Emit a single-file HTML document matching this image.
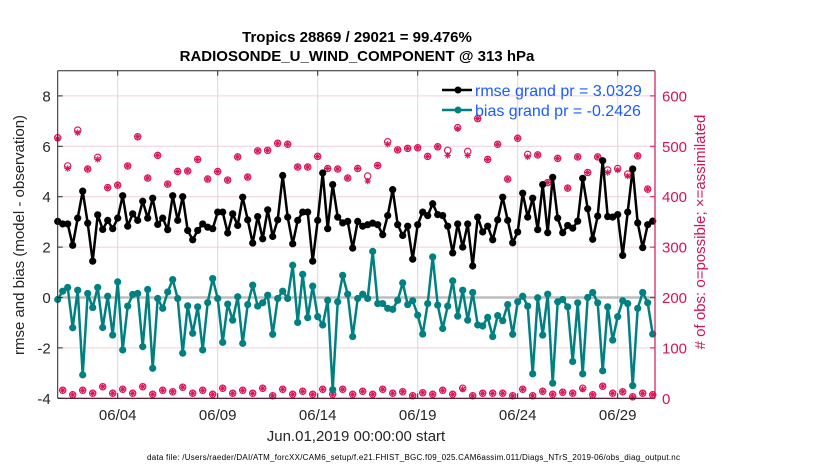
<!DOCTYPE html>
<html><head><meta charset="utf-8"><style>
body{margin:0;background:#fff;}
svg{display:block;font-family:"Liberation Sans",sans-serif;}
</style></head><body>
<svg id="chart" width="830" height="470" viewBox="0 0 830 470" xmlns="http://www.w3.org/2000/svg">
<text x="357" y="42" text-anchor="middle" font-size="15" font-weight="bold">Tropics 28869 / 29021 = 99.476%</text>
<text x="357" y="61" text-anchor="middle" font-size="15" font-weight="bold">RADIOSONDE_U_WIND_COMPONENT @ 313 hPa</text>
<g id="grid"></g>
<g id="marks"></g>
<g id="axes"></g>
<text transform="translate(24,235) rotate(-90)" text-anchor="middle" font-size="15" fill="#262626">rmse and bias (model - observation)</text>
<text transform="translate(705,232) rotate(-90)" text-anchor="middle" font-size="15" fill="#d0145a"># of obs: o=possible; ×=assimilated</text>
<text x="356" y="441" text-anchor="middle" font-size="15" fill="#262626">Jun.01,2019 00:00:00 start</text>
<text x="147" y="460" font-size="8" textLength="533" fill="#000">data file: /Users/raeder/DAI/ATM_forcXX/CAM6_setup/f.e21.FHIST_BGC.f09_025.CAM6assim.011/Diags_NTrS_2019-06/obs_diag_output.nc</text>
<g>
<line x1="442" y1="90" x2="472" y2="90" stroke="#000" stroke-width="2.5"/>
<circle cx="458" cy="90" r="3.5" fill="#000"/>
<text x="475" y="96" font-size="16" fill="#1a5cff">rmse grand pr = 3.0329</text>
<line x1="442" y1="110" x2="472" y2="110" stroke="#008080" stroke-width="2.5"/>
<circle cx="458" cy="110" r="3.5" fill="#008080"/>
<text x="475" y="116" font-size="16" fill="#1a5cff">bias grand pr = -0.2426</text>
</g>
</svg>
<script>
const rmse=[3.02,2.92,2.92,2.07,3.15,4.22,2.95,1.44,3.28,2.70,3.06,2.73,3.15,4.04,2.83,3.32,3.06,3.82,3.15,3.94,2.90,3.15,2.69,4.04,3.06,4.0,2.66,2.29,2.66,2.92,2.79,2.73,3.39,3.39,2.56,3.32,2.86,3.98,3.08,2.16,3.21,2.33,3.48,2.42,3.08,4.84,3.19,2.13,3.06,3.39,3.39,1.44,3.06,4.94,2.73,4.48,3.19,2.96,3.02,1.96,3.02,2.83,2.89,2.95,2.89,2.49,3.25,4.28,2.89,2.46,2.83,1.52,2.89,3.39,3.25,3.72,3.29,3.25,2.83,1.77,2.92,2.0,2.92,1.25,3.19,2.60,2.83,2.29,3.08,3.98,3.06,2.17,2.60,4.14,3.19,3.94,2.69,4.48,2.57,4.77,3.15,2.57,2.86,2.75,3.03,4.73,3.52,2.31,3.23,5.43,3.21,3.19,3.29,1.67,3.39,5.10,2.96,1.98,2.89,3.03];
const bias=[-0.08,0.25,0.40,-1.2,0.29,-3.07,0.16,-0.40,0.40,-1.19,0.05,-1.49,0.62,-2.08,-0.34,0.12,0.16,-1.95,0.32,-2.81,-0.04,-0.43,0.22,0.71,-0.04,-2.21,-0.33,-1.42,-0.37,-2.08,-0.20,0.75,-0.04,-1.78,-0.26,-0.90,0.03,-1.82,-0.28,0.49,-0.34,-0.21,0.09,-1.46,-0.04,0.25,-0.04,1.28,-0.99,0.92,-0.80,0.45,-0.76,-1.09,-0.11,-3.66,-0.17,0.88,0.13,-1.55,-0.04,0.13,-0.04,1.83,-0.24,-0.24,-0.43,-0.47,-0.11,0.58,-0.28,-0.13,-0.70,-1.45,-0.24,1.61,-0.30,-1.23,-0.34,0.66,-0.74,0.29,-0.90,0.20,-1.09,-1.13,-0.79,-1.55,-0.72,-0.92,-0.28,-1.46,-0.17,0.05,-0.34,-3.03,-0.01,-1.49,0.13,-3.40,-0.17,-0.08,-0.37,-2.54,-0.21,-3.03,0.0,0.20,-0.21,-2.91,-0.37,-1.69,-0.76,-0.13,-0.24,-3.50,-0.43,0.20,-0.21,-1.45];
const nposs=[517,16,461,7,532,16,455,10,478,23,418,10,423,18,461,10,519,23,437,8,482,16,425,13,450,22,451,10,474,16,435,8,450,20,433,10,479,16,439,10,491,20,492,5,506,18,504,8,459,14,459,8,480,18,456,8,455,18,437,8,456,14,441,8,462,18,509,10,493,13,496,5,497,11,480,8,499,16,492,8,537,20,490,5,555,10,474,10,504,10,435,5,516,18,484,5,483,14,428,8,476,12,417,10,479,20,448,7,479,24,453,10,456,13,445,3,481,10,415,7];
const nassim=[515,16,456,7,527,16,455,10,474,23,418,10,423,18,461,10,519,23,437,8,482,16,425,13,450,22,451,10,474,16,435,8,450,20,433,10,479,16,439,10,491,20,492,5,506,18,504,8,459,14,459,8,480,18,456,8,455,18,437,8,456,14,431,8,462,18,504,10,493,13,496,5,497,11,480,8,499,16,482,8,535,18,482,5,555,10,474,10,504,10,435,5,516,18,479,5,483,14,428,8,476,12,417,10,479,18,448,7,479,24,448,10,453,13,441,3,481,10,415,7];
const xTickDays=[3,8,13,18,23,28];
const xTickLabels=["06/04","06/09","06/14","06/19","06/24","06/29"];
const yTicks=[-4,-2,0,2,4,6,8];
const y2Ticks=[0,100,200,300,400,500,600];
const stepDays=0.25;

const NS="http://www.w3.org/2000/svg";
const L=57.7,R=655,T=70.7,B=398.3;
const X=d=>L+d*20;
const Y=v=>B-(v+4)/13*(B-T);
const Y2=n=>B-n/650*(B-T);
const grid=document.getElementById('grid'),marks=document.getElementById('marks'),axes=document.getElementById('axes');
function mk(tag,attrs,parent){const e=document.createElementNS(NS,tag);for(const k in attrs)e.setAttribute(k,attrs[k]);parent.appendChild(e);return e;}

mk('rect',{x:L,y:T,width:R-L,height:B-T,fill:'#fff'},grid);
yTicks.forEach(v=>{const g=mk('line',{x1:L,x2:R,y1:Y(v),y2:Y(v),stroke:'#f2d0dc','stroke-width':1},grid);

});
xTickDays.forEach(d=>{const g=mk('line',{x1:X(d),x2:X(d),y1:T,y2:B,stroke:'#d8d8d8','stroke-width':1},grid);

});
const zl=mk('line',{x1:L,x2:R,y1:Y(0),y2:Y(0),stroke:'#bdbdbd','stroke-width':2.5},grid);



function star(cx,cy,parent){const g=mk('g',{stroke:'#d8145a','stroke-width':1.1},parent);
for(let a=0;a<4;a++){const t=a*Math.PI/4,r=3.2;mk('line',{x1:cx-r*Math.cos(t),y1:cy-r*Math.sin(t),x2:cx+r*Math.cos(t),y2:cy+r*Math.sin(t)},g);}return g;}
nposs.forEach((n,i)=>{const c=mk('circle',{cx:X(i*stepDays),cy:Y2(n),r:3.2,fill:'none',stroke:'#d8145a','stroke-width':1.1},marks);

});
nassim.forEach((n,i)=>{const s=star(X(i*stepDays),Y2(n),marks);

});

function series(vals,color,name){
const p=mk('polyline',{points:vals.map((v,i)=>X(i*stepDays)+','+Y(v)).join(' '),fill:'none',stroke:color,'stroke-width':2.5,'stroke-linejoin':'round'},marks);


vals.forEach((v,i)=>{const c=mk('circle',{cx:X(i*stepDays),cy:Y(v),r:3.6,fill:color},marks);

});}
series(bias,'#008080','bias');
series(rmse,'#000000','rmse');

mk('line',{x1:L,x2:L,y1:T,y2:B,stroke:'#262626','stroke-width':1},axes);
mk('line',{x1:L,x2:R,y1:T,y2:T,stroke:'#262626','stroke-width':1},axes);
mk('line',{x1:L,x2:R,y1:B,y2:B,stroke:'#3a0a1a','stroke-width':1.2},axes);
mk('line',{x1:R,x2:R,y1:T,y2:B,stroke:'#d0145a','stroke-width':1.2},axes);
yTicks.forEach(v=>{mk('line',{x1:L,x2:L+5,y1:Y(v),y2:Y(v),stroke:'#262626'},axes);
const t=mk('text',{x:L-7,y:Y(v)+5.5,'text-anchor':'end','font-size':15,fill:'#262626'},axes);t.textContent=v;

});
y2Ticks.forEach(n=>{mk('line',{x1:R-5,x2:R,y1:Y2(n),y2:Y2(n),stroke:'#d0145a'},axes);
const t=mk('text',{x:R+7,y:Y2(n)+5.5,'font-size':15,fill:'#d0145a'},axes);t.textContent=n;

});
xTickDays.forEach((d,i)=>{mk('line',{x1:X(d),x2:X(d),y1:B,y2:B-5,stroke:'#262626'},axes);mk('line',{x1:X(d),x2:X(d),y1:T,y2:T+5,stroke:'#262626'},axes);
const t=mk('text',{x:X(d),y:420,'text-anchor':'middle','font-size':15,fill:'#262626'},axes);t.textContent=xTickLabels[i];

});
</script>
</body></html>
